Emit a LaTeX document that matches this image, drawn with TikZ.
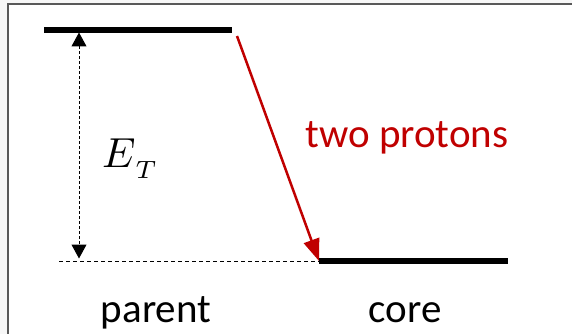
\documentclass[tikz,border=0pt]{standalone}
\usepackage{fontspec}
\setmainfont{Carlito}
\usetikzlibrary{arrows.meta}
\definecolor{protonred}{HTML}{C00000}
\definecolor{framegray}{HTML}{595959}
\begin{document}
\begin{tikzpicture}[x=1pt,y=-1pt,>=Stealth,
  level/.style={line width=5.5pt},
  lbl/.style={anchor=base,inner sep=0pt,font=\fontsize{41}{48}\selectfont}]
\useasboundingbox (0,0) rectangle (572,334);
\fill[black!3] (0,0) rectangle (572,334);
\fill[white] (7.5,4) rectangle (572,334);
\draw[framegray,line width=2pt] (7.5,334)--(7.5,4)--(572,4);
% levels
\coordinate (parentL) at (44,30);
\coordinate (parentR) at (232,30);
\coordinate (coreL) at (319,261);
\coordinate (coreR) at (508,261);
\coordinate (baseL) at (59,261);
\coordinate (etTop) at (79,32.5);
\coordinate (etBot) at (79,258.5);
\draw[level] (parentL)--(parentR);
\draw[level] (coreL)--(coreR);
\draw[dash pattern=on 4pt off 3pt,line width=1pt] (baseL)--(coreL);
\draw[{Triangle[width=15pt,length=14pt]}-{Triangle[width=15pt,length=14pt]},
  dash pattern=on 3pt off 2pt,line width=1pt] (etTop)--(etBot);
\draw[protonred,line width=2.5pt,-{Triangle[width=16pt,length=22pt]}]
  ([shift={(5,6)}]parentR)--(coreL);
% labels
\node[anchor=base west,inner sep=0pt,font=\normalsize] (et) at (102,167)
  {\scalebox{4.2}{$E\raisebox{-2.8pt}{\scalebox{0.85}{$\scriptstyle T$}}$}};
\node[lbl,text=protonred] (protons) at (407,147) {two protons};
\node[lbl] (parent) at (156,322) {parent};
\node[lbl] (core) at (405,322) {core};
\end{tikzpicture}
\end{document}
